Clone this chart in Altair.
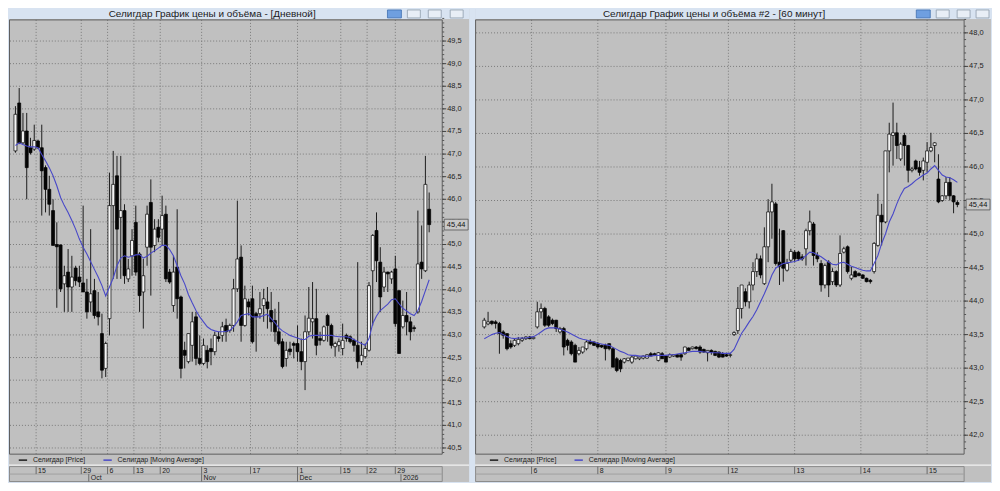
import altair as alt
import pandas as pd

FONT = "Liberation Sans"
GRAY = "#c0c0c0"
FRAME = "#d8e3f1"
GRID = "#7a7a7a"
MA_COLOR = "#4848c8"
PRICE_NAME = "Селигдар [Price]"
MA_NAME = "Селигдар [Moving Average]"

# ---------------- Left window: daily candles ----------------
L_TITLE = "Селигдар График цены и объёма - [Дневной]"
L_open = [47.07, 48.13, 47.25, 47.51, 47.14, 47.11, 47.29, 47.14, 46.70, 46.22,
          45.75, 45.00, 44.99, 44.13, 44.39, 44.06, 44.48, 44.28, 44.15, 43.95,
          43.73, 43.98, 43.51, 43.03, 42.26, 43.36, 45.86, 46.52, 45.60, 45.75,
          44.24, 44.75, 45.49, 44.79, 43.95, 44.94, 45.93, 44.98, 45.38, 45.34,
          45.67, 44.39, 43.65, 44.50, 43.84, 42.66, 42.41, 42.77, 43.40, 42.48,
          42.37, 42.66, 42.70, 42.63, 42.96, 42.99, 43.21, 43.10, 43.21, 44.02,
          44.72, 43.21, 43.73, 43.80, 43.47, 43.47, 43.65, 43.73, 43.54, 43.32,
          43.07, 42.85, 42.48, 42.69, 42.81, 42.81, 42.63, 42.41, 43.07, 43.29,
          43.36, 42.92, 42.88, 43.43, 43.21, 42.74, 42.77, 42.70, 42.99, 42.96,
          42.88, 42.77, 42.41, 42.52, 42.66, 44.42, 45.31, 44.61, 44.06, 44.39,
          44.24, 44.46, 43.98, 43.18, 43.43, 43.29, 43.16, 43.51, 44.61, 44.42,
          45.78]
L_high = [48.06, 48.46, 47.91, 47.91, 47.36, 47.65, 47.32, 47.65, 46.75, 46.52,
          46.00, 45.49, 45.00, 44.53, 44.90, 44.75, 44.53, 44.53, 45.86, 44.24,
          45.34, 44.24, 43.95, 43.47, 42.85, 46.59, 47.07, 46.96, 46.96, 45.89,
          44.68, 45.34, 45.86, 44.83, 44.68, 45.86, 46.44, 45.56, 45.56, 46.08,
          45.86, 44.46, 44.75, 45.78, 43.87, 42.85, 43.03, 43.51, 43.51, 42.99,
          42.92, 42.77, 42.92, 43.07, 43.07, 43.29, 43.36, 43.25, 44.24, 45.97,
          44.98, 44.09, 43.80, 44.09, 43.51, 43.95, 44.02, 44.06, 43.95, 43.58,
          43.73, 42.92, 42.85, 42.85, 42.85, 43.21, 42.92, 43.43, 44.06, 44.17,
          44.02, 43.07, 43.21, 43.47, 43.25, 42.85, 42.92, 43.25, 43.03, 42.99,
          42.92, 44.61, 42.85, 42.81, 44.17, 45.23, 45.71, 44.94, 44.50, 44.40,
          44.42, 44.75, 43.98, 43.76, 43.95, 43.40, 43.21, 45.75, 45.42, 46.96,
          46.15]
L_low = [47.03, 47.22, 47.22, 46.00, 46.99, 47.07, 47.11, 45.64, 45.71, 45.64,
         44.98, 43.60, 43.95, 43.51, 43.51, 43.51, 44.09, 44.06, 43.95, 43.36,
         43.51, 43.36, 43.21, 42.04, 42.07, 42.99, 44.24, 44.24, 44.24, 44.13,
         44.17, 44.31, 44.31, 43.51, 43.14, 44.53, 43.87, 44.83, 45.05, 44.98,
         44.17, 44.13, 43.51, 43.36, 42.04, 42.26, 42.37, 42.41, 42.33, 42.33,
         42.33, 42.26, 42.33, 42.55, 42.85, 42.85, 42.85, 43.05, 43.07, 43.95,
         42.85, 43.18, 43.43, 42.81, 42.63, 43.36, 43.29, 43.14, 43.07, 42.85,
         42.77, 42.26, 42.30, 42.55, 42.48, 42.41, 42.22, 41.78, 42.99, 42.92,
         42.55, 42.77, 42.85, 42.85, 42.70, 42.52, 42.63, 42.55, 42.85, 42.81,
         42.63, 42.26, 42.33, 42.48, 42.63, 43.21, 44.17, 43.51, 43.95, 43.95,
         44.13, 43.18, 42.59, 43.14, 42.99, 42.88, 43.07, 43.47, 44.24, 44.39,
         45.27]
L_close = [47.88, 47.25, 47.51, 46.70, 47.03, 47.30, 47.14, 46.63, 46.22, 45.89,
           44.98, 44.95, 44.02, 44.31, 44.06, 44.28, 44.20, 44.17, 43.95, 43.51,
           43.91, 43.43, 43.40, 42.22, 42.81, 45.86, 46.33, 45.34, 45.75, 44.31,
           44.46, 45.09, 44.39, 43.87, 44.31, 45.67, 44.94, 45.34, 45.16, 45.64,
           44.24, 44.17, 44.39, 43.80, 42.26, 42.55, 43.03, 43.29, 42.48, 42.37,
           42.77, 42.41, 42.63, 42.99, 42.92, 43.18, 43.07, 43.21, 44.02, 44.68,
           43.21, 43.80, 43.62, 42.85, 43.40, 43.58, 43.80, 43.58, 43.29, 43.07,
           42.81, 42.30, 42.66, 42.63, 42.77, 42.63, 42.41, 43.07, 43.37, 43.36,
           42.77, 42.88, 43.18, 43.21, 42.77, 42.81, 42.85, 42.88, 42.92, 42.85,
           42.77, 42.41, 42.55, 42.70, 44.09, 45.20, 44.64, 43.84, 44.39, 44.35,
           44.39, 43.25, 42.59, 43.43, 43.29, 43.07, 43.14, 44.57, 44.46, 46.33,
           45.44]
L_ma = [47.19, 47.25, 47.21, 47.18, 47.16, 47.16, 47.14, 46.99, 46.85, 46.70,
        46.52, 46.30, 46.04, 45.86, 45.71, 45.53, 45.34, 45.12, 44.94, 44.79,
        44.62, 44.45, 44.28, 44.09, 43.86, 44.06, 44.26, 44.53, 44.70, 44.75,
        44.72, 44.74, 44.77, 44.78, 44.70, 44.74, 44.81, 44.86, 44.92, 44.98,
        44.98, 44.89, 44.75, 44.53, 44.31, 44.13, 43.89, 43.71, 43.54, 43.40,
        43.29, 43.18, 43.12, 43.09, 43.07, 43.07, 43.08, 43.10, 43.18, 43.29,
        43.43, 43.45, 43.47, 43.40, 43.40, 43.40, 43.43, 43.46, 43.36, 43.27,
        43.16, 43.09, 43.04, 42.99, 42.96, 42.93, 42.90, 42.90, 42.97, 42.99,
        42.99, 42.99, 42.99, 42.99, 42.99, 42.97, 42.96, 42.96, 42.96, 42.94,
        42.90, 42.85, 42.81, 42.77, 42.92, 43.25, 43.42, 43.54, 43.61, 43.68,
        43.78, 43.80, 43.69, 43.59, 43.53, 43.47, 43.43, 43.54, 43.74, 43.98,
        44.22]
L_y_ticks = [40.5, 41.0, 41.5, 42.0, 42.5, 43.0, 43.5, 44.0, 44.5, 45.0,
             45.5, 46.0, 46.5, 47.0, 47.5, 48.0, 48.5, 49.0, 49.5]
L_day_ticks = [5.5, 17.5, 24.5, 31.5, 38.5, 49.5, 62.5, 75, 86.5, 93.5, 101]
L_day_labels = ["15", "29", "6", "13", "20", "3", "17", "1", "15", "22", "29"]
L_month_ticks = [19.5, 49.5, 75, 102.5]
L_month_labels = ["Oct", "Nov", "Dec", "2026"]

# ---------------- Right window: 60-minute candles ----------------
R_TITLE = "Селигдар График цены и объёма #2 - [60 минут]"
R_open = [43.615, 43.66, 43.70, 43.69, 43.665, 43.54, 43.515, 43.365, 43.34, 43.365,
          43.415, 43.44, 43.465, 43.44, 43.615, 43.84, 43.89, 43.765, 43.715, 43.715,
          43.54, 43.59, 43.415, 43.39, 43.34, 43.215, 43.24, 43.29, 43.40, 43.39,
          43.365, 43.34, 43.34, 43.365, 43.29, 43.14, 43.115, 43.09, 43.115, 43.09,
          43.14, 43.14, 43.15, 43.15, 43.215, 43.215, 43.115, 43.215, 43.18, 43.165,
          43.18, 43.20, 43.20, 43.215, 43.30, 43.29, 43.315, 43.315, 43.28, 43.23,
          43.265, 43.25, 43.24, 43.215, 43.20, 43.19, 43.50, 43.56, 43.89, 44.14,
          43.99, 44.24, 44.44, 44.63, 44.26, 44.81, 45.33, 45.45, 44.58, 45.05,
          44.46, 44.61, 44.73, 44.73, 44.66, 44.78, 45.05, 45.15, 44.68, 44.56,
          44.24, 44.58, 44.29, 44.44, 44.24, 44.73, 44.81, 44.34, 44.44, 44.41,
          44.39, 44.34, 44.31, 44.44, 44.83, 45.28, 45.18, 46.24, 46.47, 46.51,
          46.12, 46.47, 46.32, 45.95, 46.09, 45.99, 45.95, 46.07, 46.24, 46.32,
          45.82, 45.50, 45.57, 45.77, 45.57, 45.47]
R_high = [43.75, 43.84, 43.71, 43.715, 43.69, 43.565, 43.52, 43.415, 43.44, 43.465,
          43.465, 43.475, 43.48, 43.47, 43.99, 43.965, 43.915, 43.79, 43.74, 43.72,
          43.615, 43.615, 43.44, 43.415, 43.365, 43.315, 43.315, 43.415, 43.43, 43.40,
          43.39, 43.35, 43.365, 43.37, 43.315, 43.165, 43.14, 43.15, 43.15, 43.19,
          43.19, 43.17, 43.19, 43.21, 43.24, 43.23, 43.24, 43.24, 43.19, 43.22,
          43.20, 43.21, 43.21, 43.32, 43.31, 43.32, 43.33, 43.34, 43.29, 43.27,
          43.28, 43.26, 43.25, 43.24, 43.23, 43.23, 43.55, 44.21, 44.24, 44.19,
          44.29, 44.58, 44.71, 44.68, 45.10, 45.52, 45.75, 45.48, 45.08, 45.06,
          44.63, 44.78, 44.76, 44.75, 44.70, 45.08, 45.35, 45.18, 44.73, 44.61,
          44.56, 44.61, 44.49, 44.46, 44.98, 44.81, 44.83, 44.51, 44.46, 44.43,
          44.40, 44.35, 44.33, 44.88, 45.60, 45.45, 46.24, 46.66, 46.96, 46.66,
          46.37, 46.51, 46.33, 46.00, 46.11, 46.09, 46.14, 46.37, 46.51, 46.37,
          46.19, 45.58, 45.85, 45.85, 45.58, 45.50]
R_low = [43.59, 43.64, 43.64, 43.59, 43.215, 43.44, 43.265, 43.29, 43.315, 43.34,
         43.39, 43.42, 43.43, 43.43, 43.59, 43.74, 43.615, 43.615, 43.64, 43.54,
         43.515, 43.19, 43.265, 43.19, 43.09, 43.19, 43.215, 43.265, 43.35, 43.33,
         43.29, 43.30, 43.115, 43.265, 43.015, 42.94, 42.94, 43.07, 43.10, 43.065,
         43.13, 43.12, 43.13, 43.14, 43.18, 43.18, 43.10, 43.14, 43.09, 43.15,
         43.17, 43.16, 43.11, 43.20, 43.26, 43.28, 43.28, 43.215, 43.23, 43.10,
         43.20, 43.18, 43.15, 43.16, 43.17, 43.16, 43.48, 43.51, 43.74, 43.92,
         43.89, 44.16, 44.36, 44.34, 44.24, 44.58, 44.93, 44.53, 44.24, 44.29,
         44.44, 44.58, 44.58, 44.60, 44.60, 44.53, 44.98, 44.53, 44.58, 44.14,
         44.19, 44.06, 44.24, 44.21, 44.21, 44.71, 44.41, 44.31, 44.36, 44.37,
         44.33, 44.28, 44.26, 44.41, 44.81, 44.83, 45.16, 45.92, 46.02, 46.12,
         46.09, 46.02, 45.77, 45.92, 45.95, 45.87, 45.80, 45.92, 46.22, 46.07,
         45.46, 45.48, 45.52, 45.50, 45.31, 45.40]
R_close = [43.715, 43.69, 43.665, 43.665, 43.515, 43.49, 43.29, 43.315, 43.415, 43.43,
           43.44, 43.465, 43.44, 43.46, 43.84, 43.89, 43.64, 43.64, 43.665, 43.59,
           43.59, 43.315, 43.34, 43.215, 43.09, 43.265, 43.315, 43.39, 43.365, 43.34,
           43.315, 43.315, 43.29, 43.29, 43.015, 42.965, 42.99, 43.14, 43.15, 43.165,
           43.18, 43.165, 43.18, 43.20, 43.18, 43.19, 43.23, 43.14, 43.09, 43.20,
           43.20, 43.165, 43.165, 43.315, 43.265, 43.315, 43.29, 43.24, 43.24, 43.265,
           43.24, 43.19, 43.165, 43.165, 43.18, 43.20, 43.53, 43.89, 44.24, 43.99,
           44.24, 44.44, 44.63, 44.39, 44.81, 45.33, 45.48, 44.56, 44.52, 44.49,
           44.56, 44.74, 44.63, 44.63, 44.63, 45.05, 45.18, 44.68, 44.63, 44.24,
           44.53, 44.24, 44.44, 44.24, 44.71, 44.78, 44.44, 44.39, 44.36, 44.38,
           44.34, 44.29, 44.29, 44.86, 45.28, 45.18, 46.24, 46.49, 46.51, 46.32,
           46.34, 46.32, 45.95, 45.97, 45.97, 45.92, 46.09, 46.24, 46.29, 46.36,
           45.48, 45.57, 45.77, 45.57, 45.48, 45.44]
R_ma = [43.44, 43.47, 43.50, 43.52, 43.53, 43.50, 43.47, 43.45, 43.44, 43.45,
        43.45, 43.45, 43.46, 43.47, 43.50, 43.54, 43.58, 43.60, 43.60, 43.60,
        43.58, 43.56, 43.54, 43.51, 43.48, 43.45, 43.43, 43.42, 43.40, 43.39,
        43.37, 43.36, 43.35, 43.34, 43.31, 43.28, 43.25, 43.23, 43.20, 43.19,
        43.19, 43.18, 43.18, 43.18, 43.18, 43.19, 43.19, 43.19, 43.19, 43.20,
        43.20, 43.21, 43.22, 43.23, 43.24, 43.25, 43.25, 43.25, 43.24, 43.24,
        43.23, 43.23, 43.23, 43.22, 43.22, 43.22, 43.28, 43.40, 43.52, 43.60,
        43.69, 43.77, 43.87, 43.99, 44.11, 44.24, 44.39, 44.49, 44.53, 44.56,
        44.57, 44.58, 44.59, 44.61, 44.63, 44.68, 44.73, 44.72, 44.69, 44.66,
        44.62, 44.58, 44.55, 44.54, 44.57, 44.58, 44.55, 44.52, 44.50, 44.48,
        44.46, 44.45, 44.45, 44.56, 44.68, 44.86, 45.00, 45.18, 45.30, 45.45,
        45.58, 45.68, 45.71, 45.75, 45.80, 45.84, 45.88, 45.91, 45.97, 46.02,
        45.95, 45.88, 45.85, 45.84, 45.81, 45.77]
R_y_ticks = [42.0, 42.5, 43.0, 43.5, 44.0, 44.5, 45.0, 45.5, 46.0, 46.5,
             47.0, 47.5, 48.0]
R_day_ticks = [12.5, 30, 48, 64.5, 82, 99.5, 117]
R_day_labels = ["6", "8", "9", "12", "13", "14", "15"]
R_month_ticks = []
R_month_labels = []

TOP, BOT = 11, 447


def panel(W, PR, o, h, l, c, ma, xdom, ydom, yticks, minor_lo, minor_n,
          day_t, day_l, mon_t, mon_l, title, title_x, btn_x, legend_x, box_x):
    n = len(o)
    df = pd.DataFrame({"i": list(range(n)), "open": o, "high": h, "low": l,
                       "close": c, "ma": ma})
    df["pser"] = PRICE_NAME
    df["mser"] = MA_NAME
    xs = alt.Scale(domain=xdom, nice=False, zero=False)
    ys = alt.Scale(domain=ydom, nice=False, zero=False)
    cs = alt.Scale(domain=[PRICE_NAME, MA_NAME], range=["#1c1c1c", MA_COLOR])
    leg = alt.Legend(orient="none", legendX=legend_x, legendY=448, direction="horizontal",
                     title=None, symbolType="stroke", symbolSize=70, symbolStrokeWidth=1.5,
                     labelFont=FONT, labelFontSize=7, labelColor="#222",
                     columnPadding=14, padding=0, labelOffset=5, rowPadding=0)
    one = pd.DataFrame({"k": [0]})
    ob = alt.Chart(one)

    titlebar = ob.mark_rect(color=FRAME).encode(
        x=alt.value(0), x2=alt.value(W), y=alt.value(0), y2=alt.value(TOP - 1))
    ttext = ob.mark_text(text=title, font=FONT, fontSize=10, color="#1a1a1a",
                         baseline="middle", align="center").encode(
        x=alt.value(title_x), y=alt.value(5))
    btns = [ob.mark_rect(fill="#6f9fe0", stroke="#3f6fb0", strokeWidth=0.8).encode(
        x=alt.value(btn_x[0]), x2=alt.value(btn_x[0] + 14), y=alt.value(1), y2=alt.value(9))]
    for bx in btn_x[1:]:
        btns.append(ob.mark_rect(fill="#e8eef6", stroke="#8e9bab", strokeWidth=0.8).encode(
            x=alt.value(bx), x2=alt.value(bx + 13), y=alt.value(1), y2=alt.value(9)))

    frame = ob.mark_rect(fillOpacity=0, stroke="#5e5e5e", strokeWidth=1).encode(
        x=alt.value(0.5), x2=alt.value(PR), y=alt.value(TOP), y2=alt.value(BOT))

    ytab = pd.DataFrame({"v": yticks})
    hgrid = alt.Chart(ytab).mark_rule(
        color=GRID, strokeDash=[1, 2], strokeWidth=1).encode(
        y=alt.Y("v:Q", scale=ys, axis=None), x=alt.value(1), x2=alt.value(PR))
    vgrid = alt.Chart(pd.DataFrame({"t": day_t})).mark_rule(
        color=GRID, strokeDash=[1, 2], strokeWidth=1).encode(
        x=alt.X("t:Q", scale=xs, axis=None), y=alt.value(TOP), y2=alt.value(BOT))

    # price axis on the right: major ticks, minor ticks and comma-decimal labels
    yticks_major = alt.Chart(ytab).mark_rule(color="#444").encode(
        y=alt.Y("v:Q", scale=ys, axis=None), x=alt.value(PR), x2=alt.value(PR + 4))
    minor = [round(minor_lo + 0.1 * k, 1) for k in range(minor_n)]
    yticks_minor = alt.Chart(pd.DataFrame({"v": minor})).mark_rule(color="#555").encode(
        y=alt.Y("v:Q", scale=ys, axis=None), x=alt.value(PR), x2=alt.value(PR + 2))
    ylabels = alt.Chart(ytab).transform_calculate(
        lab="replace(format(datum.v, '.1f'), '.', ',')").mark_text(
        font=FONT, fontSize=7.5, color="#222", align="left", baseline="middle").encode(
        y=alt.Y("v:Q", scale=ys, axis=None), x=alt.value(PR + 5), text="lab:N")

    base = alt.Chart(df)
    wicks = base.mark_rule(strokeWidth=1).encode(
        x=alt.X("i:Q", scale=xs, axis=None),
        y=alt.Y("low:Q", scale=ys, axis=None),
        y2="high:Q",
        color=alt.Color("pser:N", scale=cs, legend=leg))
    bodies = base.transform_calculate(
        bcol="datum.close >= datum.open ? '#f4f4f4' : '#050505'"
    ).mark_bar(size=3, stroke="#000", strokeWidth=0.7).encode(
        x=alt.X("i:Q", scale=xs, axis=None),
        y=alt.Y("open:Q", scale=ys, axis=None), y2="close:Q",
        fill=alt.Fill("bcol:N", scale=None))
    maline = base.mark_line(strokeWidth=1.1).encode(
        x=alt.X("i:Q", scale=xs, axis=None),
        y=alt.Y("ma:Q", scale=ys, axis=None),
        color=alt.Color("mser:N", scale=cs, legend=leg))

    last = pd.DataFrame({"p": [c[-1]]})
    lbox = alt.Chart(last).mark_point(
        shape="M-1,-0.45L1,-0.45L1,0.45L-1,0.45Z", size=24 * 24, filled=True,
        fill="#c8c8c8", stroke="#555", strokeWidth=0.8, opacity=1).encode(
        x=alt.value(box_x), y=alt.Y("p:Q", scale=ys, axis=None))
    ltext = alt.Chart(last).transform_calculate(
        lab="replace(format(datum.p, '.2f'), '.', ',')").mark_text(
        font=FONT, fontSize=7.5, color="#111", align="center", baseline="middle").encode(
        x=alt.value(box_x), y=alt.Y("p:Q", scale=ys, axis=None), text="lab:N")

    sep = ob.mark_rule(color="#ffffff", strokeWidth=1).encode(
        x=alt.value(0), x2=alt.value(W), y=alt.value(458))
    dbox = ob.mark_rect(fillOpacity=0, stroke="#8a8a8a", strokeWidth=1).encode(
        x=alt.value(0.5), x2=alt.value(PR), y=alt.value(459.5), y2=alt.value(474.5))
    dmid = ob.mark_rule(color="#a0a0a0").encode(
        x=alt.value(0.5), x2=alt.value(PR), y=alt.value(467))
    dticks = alt.Chart(pd.DataFrame({"t": day_t})).mark_rule(color="#6a6a6a").encode(
        x=alt.X("t:Q", scale=xs, axis=None), y=alt.value(459.5), y2=alt.value(467))
    dlabels = alt.Chart(pd.DataFrame({"t": day_t, "lab": day_l})).mark_text(
        font=FONT, fontSize=7, color="#222", align="left", baseline="middle", dx=2).encode(
        x=alt.X("t:Q", scale=xs, axis=None), y=alt.value(463.5), text="lab:N")

    layers = [titlebar, ttext] + btns + [hgrid, vgrid, frame, yticks_minor, yticks_major,
                                         ylabels, wicks, bodies, maline, lbox, ltext,
                                         sep, dbox, dmid, dticks, dlabels]
    if mon_t:
        mticks2 = alt.Chart(pd.DataFrame({"t": mon_t})).mark_rule(color="#6a6a6a").encode(
            x=alt.X("t:Q", scale=xs, axis=None), y=alt.value(467), y2=alt.value(474.5))
        mlabels = alt.Chart(pd.DataFrame({"t": mon_t, "lab": mon_l})).mark_text(
            font=FONT, fontSize=7, color="#222", align="left", baseline="middle", dx=2).encode(
            x=alt.X("t:Q", scale=xs, axis=None), y=alt.value(471), text="lab:N")
        layers += [mticks2, mlabels]
    return alt.layer(*layers).properties(width=W, height=475)


left = panel(462, 435, L_open, L_high, L_low, L_close, L_ma,
             [-0.3886, 119.30], [39.7467, 50.2093], L_y_ticks, 40.4, 97,
             L_day_ticks, L_day_labels, L_month_ticks, L_month_labels,
             L_TITLE, 204, [380, 400, 421, 443], 9, 449)
right = panel(518, 491, R_open, R_high, R_low, R_close, R_ma,
              [-1.1097, 132.57], [41.3016, 48.3565], R_y_ticks, 41.8, 65,
              R_day_ticks, R_day_labels, R_month_ticks, R_month_labels,
              R_TITLE, 240, [443, 463, 484, 503], 14, 505)

chart = alt.hconcat(left, right, spacing=4).resolve_scale(
    x="independent", y="independent", color="independent"
).resolve_legend(color="independent").configure_view(
    stroke=None, fill=GRAY
).properties(padding=0, background=FRAME)

chart.save("out.html", embed_options={"renderer": "svg", "actions": False})
